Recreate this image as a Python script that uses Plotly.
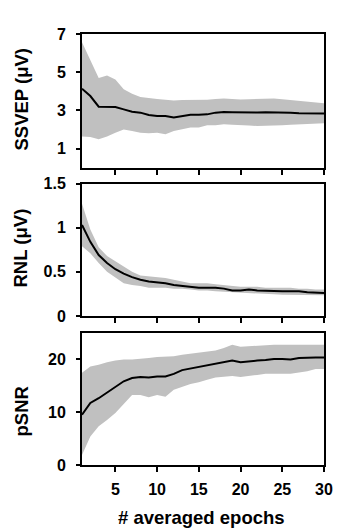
import plotly.graph_objects as go
from plotly.subplots import make_subplots

epochs = list(range(1, 31))

ssvep_mean = [4.13, 3.75, 3.19, 3.17, 3.17, 3.05, 2.93, 2.88, 2.76, 2.70,
              2.70, 2.62, 2.70, 2.77, 2.77, 2.79, 2.88, 2.91, 2.90, 2.89,
              2.89, 2.89, 2.90, 2.90, 2.88, 2.87, 2.85, 2.85, 2.84, 2.83]
ssvep_upper = [6.57, 5.66, 4.70, 4.83, 4.62, 4.10, 3.87, 3.70, 3.63, 3.59,
               3.56, 3.52, 3.54, 3.54, 3.54, 3.55, 3.60, 3.62, 3.60, 3.57,
               3.58, 3.60, 3.61, 3.62, 3.58, 3.54, 3.50, 3.45, 3.41, 3.37]
ssvep_lower = [1.63, 1.61, 1.49, 1.63, 1.83, 2.00, 1.92, 1.83, 1.80, 1.83,
               1.75, 1.92, 2.00, 2.10, 2.10, 2.22, 2.22, 2.27, 2.25, 2.24,
               2.20, 2.18, 2.19, 2.20, 2.22, 2.25, 2.27, 2.30, 2.31, 2.32]

rnl_mean = [1.03, 0.84, 0.69, 0.60, 0.53, 0.48, 0.44, 0.41, 0.39, 0.38,
            0.37, 0.35, 0.34, 0.33, 0.32, 0.32, 0.32, 0.31, 0.29, 0.29,
            0.30, 0.29, 0.285, 0.28, 0.28, 0.28, 0.28, 0.27, 0.265, 0.26]
rnl_upper = [1.27, 0.98, 0.78, 0.68, 0.62, 0.56, 0.50, 0.46, 0.45, 0.44,
             0.43, 0.41, 0.39, 0.37, 0.37, 0.37, 0.36, 0.35, 0.34, 0.33,
             0.33, 0.33, 0.32, 0.32, 0.32, 0.32, 0.31, 0.31, 0.30, 0.30]
rnl_lower = [0.79, 0.71, 0.60, 0.50, 0.43, 0.37, 0.35, 0.34, 0.32, 0.32,
             0.32, 0.31, 0.31, 0.30, 0.29, 0.29, 0.28, 0.27, 0.265, 0.26,
             0.255, 0.25, 0.25, 0.245, 0.24, 0.24, 0.24, 0.235, 0.235, 0.235]

psnr_mean = [9.5, 11.7, 12.6, 13.7, 14.8, 15.8, 16.4, 16.6, 16.5, 16.7,
             16.7, 17.2, 17.9, 18.2, 18.4, 18.7, 19.1, 19.4, 19.7, 19.4,
             19.6, 19.7, 19.8, 20.0, 20.0, 19.9, 20.2, 20.3, 20.3, 20.3]
psnr_upper = [17.4, 18.6, 18.9, 19.4, 19.7, 19.9, 19.9, 20.0, 20.2, 20.4,
              20.5, 20.5, 20.8, 21.0, 21.1, 21.3, 21.6, 22.1, 22.7, 22.3,
              22.4, 22.5, 22.7, 22.7, 22.7, 22.7, 22.7, 22.7, 22.7, 22.7]
psnr_lower = [1.9, 5.4, 7.3, 8.5, 9.8, 11.4, 13.2, 13.2, 12.8, 13.2,
              12.9, 14.2, 14.8, 15.3, 15.6, 16.1, 16.5, 16.7, 16.8, 16.6,
              16.8, 17.0, 17.2, 17.2, 17.2, 17.2, 17.4, 17.7, 18.1, 18.1]

x_ticks = [5, 10, 15, 20, 25, 30]
panels = [
    ("SSVEP (μV)", ssvep_mean, ssvep_upper, ssvep_lower, [0, 7], [1, 3, 5, 7], ["1", "3", "5", "7"]),
    ("RNL (μV)", rnl_mean, rnl_upper, rnl_lower, [0, 1.5], [0, 0.5, 1, 1.5], ["0", "0.5", "1", "1.5"]),
    ("pSNR", psnr_mean, psnr_upper, psnr_lower, [0, 25], [0, 10, 20], ["0", "10", "20"]),
]

fig = make_subplots(rows=3, cols=1)
domains = [[0.690, 1.0], [0.3457, 0.653], [0.0, 0.3074]]
font_family = "Liberation Sans, Arial, sans-serif"
title_y = [100, 248, 412]

for i, (title, mean, upper, lower, yr, yt, ytl) in enumerate(panels):
    r = i + 1
    fig.add_trace(go.Scatter(
        x=epochs + epochs[::-1], y=upper + lower[::-1],
        fill="toself", fillcolor="rgb(192,192,192)",
        line=dict(width=0), mode="lines", hoverinfo="skip", showlegend=False),
        row=r, col=1)
    fig.add_trace(go.Scatter(
        x=epochs, y=mean, mode="lines",
        line=dict(color="black", width=2), showlegend=False),
        row=r, col=1)
    fig.update_yaxes(range=yr, tickvals=yt, ticktext=ytl, domain=domains[i],
                     showline=True, linecolor="black", linewidth=2, mirror=True,
                     ticks="outside", ticklen=4, tickwidth=1.5, tickcolor="black",
                     ticklabelstandoff=7,
                     showgrid=False, zeroline=False,
                     tickfont=dict(family=font_family, size=16, color="black", weight="bold"),
                     row=r, col=1)
    fig.update_xaxes(range=[1, 30], tickvals=x_ticks, showticklabels=(r == 3),
                     showline=True, linecolor="black", linewidth=2, mirror=True,
                     ticks="outside", ticklen=5, tickwidth=1.5, tickcolor="black",
                     ticklabelstandoff=4,
                     showgrid=False, zeroline=False,
                     tickfont=dict(family=font_family, size=16, color="black", weight="bold"),
                     row=r, col=1)
    fig.add_annotation(text=title, xref="paper", yref="paper",
                       x=(20 - 82) / 244, y=(465 - (title_y[i])) / 431,
                       textangle=-90, showarrow=False, xanchor="center", yanchor="middle",
                       font=dict(family=font_family, size=18.5, color="black", weight="bold"))

fig.add_annotation(text="# averaged epochs", xref="paper", yref="paper",
                   x=(202 - 82) / 244, y=(465 - 517) / 431, showarrow=False,
                   xanchor="center", yanchor="middle",
                   font=dict(family=font_family, size=18.5, color="black", weight="bold"))

fig.update_layout(width=345, height=529, margin=dict(l=82, r=19, t=34, b=64),
                  plot_bgcolor="white", paper_bgcolor="white")

fig.write_html("out.html")
